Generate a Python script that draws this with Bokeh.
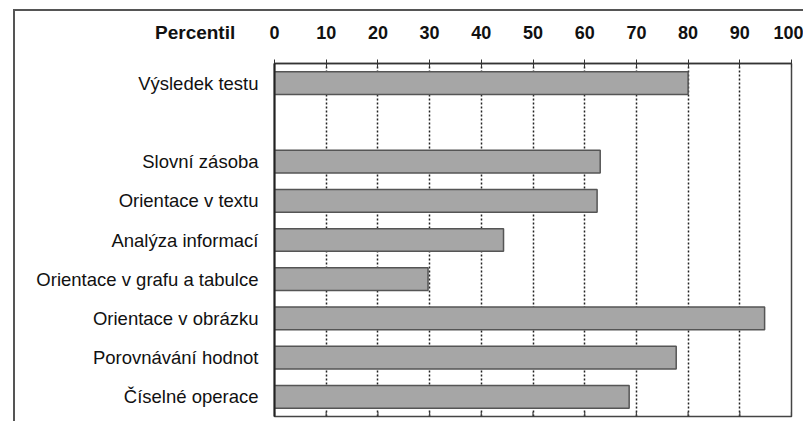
from bokeh.plotting import figure
from bokeh.models import Range1d, FactorRange, FixedTicker, ColumnDataSource, Div
from bokeh.layouts import column
from bokeh.embed import file_html
from bokeh.resources import INLINE

categories = ["Výsledek testu", " ", "Slovní zásoba", "Orientace v textu",
              "Analýza informací", "Orientace v grafu a tabulce",
              "Orientace v obrázku", "Porovnávání hodnot", "Číselné operace"]
values = [80, None, 63, 62.4, 44.3, 29.7, 94.8, 77.7, 68.6]
ticks = [0, 10, 20, 30, 40, 50, 60, 70, 80, 90, 100]
axis_title = "Percentil"

bar_cats = [c for c, v in zip(categories, values) if v is not None]
bar_vals = [v for v in values if v is not None]
src = ColumnDataSource(dict(cat=bar_cats, val=bar_vals))
tick_src = ColumnDataSource(dict(x=ticks))

p = figure(width=790, height=412, output_backend="svg", toolbar_location=None,
           x_range=Range1d(0, 100), y_range=FactorRange(factors=categories[::-1]),
           x_axis_location="above", min_border_left=259, min_border_top=52,
           min_border_right=14, min_border_bottom=7,
           styles={"margin-left": "13px", "margin-top": "9px",
                   "border-left": "2px solid #555", "border-top": "2px solid #555"})
p.background_fill_color = "white"
p.border_fill_color = "white"
p.outline_line_color = "#444444"
p.outline_line_width = 1.5

p.hbar(y="cat", left=0, right="val", height=0.58, source=src,
       fill_color="#a6a6a6", line_color="#555555", line_width=1.5)

# small tick marks on the bottom edge
p.segment(x0="x", y0=0, x1="x", y1=0.12, source=tick_src, line_color="#444444", line_width=1.2)

xa = p.xaxis[0]
xa.ticker = FixedTicker(ticks=ticks)
xa.major_label_text_font = "Liberation Sans"
xa.major_label_text_font_style = "bold"
xa.major_label_text_font_size = "18px"
xa.major_label_text_color = "#111111"
xa.major_label_standoff = 21
xa.major_tick_in = 4
xa.major_tick_out = 4
xa.major_tick_line_color = "#333333"
xa.axis_line_color = "#333333"
xa.axis_line_width = 1.5
xa.minor_tick_line_color = None

ya = p.yaxis[0]
ya.major_label_text_font = "Liberation Sans"
ya.major_label_text_font_size = "18.5px"
ya.major_label_text_color = "#111111"
ya.major_label_standoff = 10
ya.major_tick_line_color = None
ya.axis_line_color = "#222222"
ya.axis_line_width = 2

p.xgrid.ticker = FixedTicker(ticks=ticks[1:-1])
p.xgrid.grid_line_color = "#222222"
p.xgrid.grid_line_dash = "2 2"
p.xgrid.grid_line_width = 1.5
p.ygrid.grid_line_color = None

title_div = Div(text=axis_title,
                styles={"position": "absolute", "left": "155px", "top": "22px",
                        "font-family": "'Liberation Sans', Arial, sans-serif",
                        "font-weight": "bold", "font-size": "19px",
                        "line-height": "normal", "color": "#111111",
                        "z-index": "10", "margin": "0", "padding": "0"})

layout = column(title_div, p)
open("out.html", "w").write(file_html(layout, INLINE))
